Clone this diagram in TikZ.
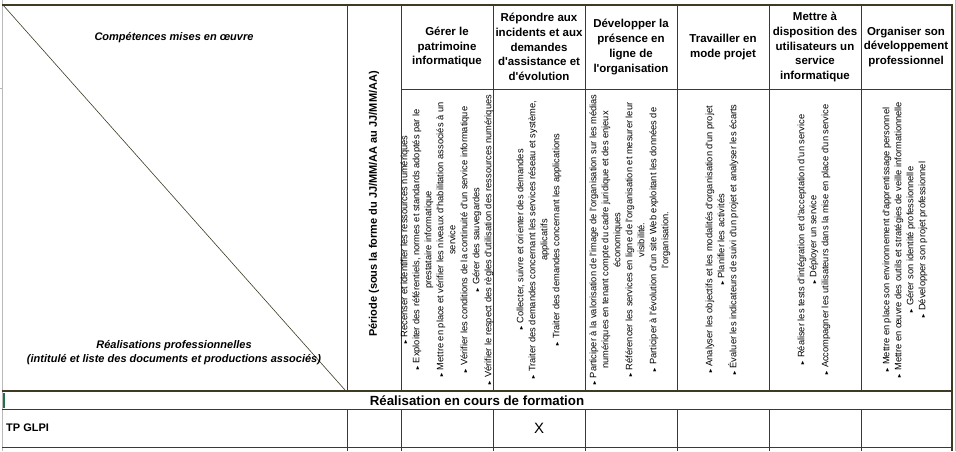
\documentclass[tikz,border=0pt]{standalone}
\usepackage{fontspec}
\setmainfont{Liberation Sans}[Ligatures=TeXOff]
\usepackage{amssymb}
\usepackage{xcolor}
\usepackage{tikz}
\usetikzlibrary{positioning}
\usetikzlibrary{calc}
\definecolor{grille}{RGB}{62,58,36}
\definecolor{selvert}{RGB}{33,115,70}
\tikzstyle{titre}=[font=\fontsize{11.5}{14.8}\selectfont\bfseries, align=center, inner sep=0pt]
\tikzstyle{coin}=[font=\fontsize{11}{14}\selectfont\bfseries\itshape, align=center, inner sep=0pt]
\tikzstyle{liste}=[font=\fontsize{9.3}{12}\selectfont, align=center, rotate=90, inner sep=0pt]
\tikzstyle{periode}=[font=\fontsize{11}{13}\selectfont\bfseries, rotate=90, inner sep=0pt]
\tikzstyle{trait} = [draw=grille, line width=1pt]
\tikzstyle{traitfort} = [draw=grille, line width=2pt]
\newcommand{\puce}{{\fontsize{4.5}{5}\selectfont\raisebox{0.3ex}{$\blacktriangleright$}}\ }

\begin{document}
\begin{tikzpicture}[x=1pt, y=-1pt]

  \useasboundingbox (0,0) rectangle (956,451);
  \def\haut{5};
  \def\sous{89};
  \def\bas{391};
  \def\rang{409};

  % bords gris de la feuille
  \draw[gray!55, line width=1pt] (2.5,0) -- (2.5,451);
  \draw[gray!55, line width=1pt] (955.5,0) -- (955.5,451);
  \draw[gray!55, line width=1pt] (0,88) -- (2.5,88);

  % grille
  \foreach \x in {347,401,493,585,677,769,861}
         \path[trait] (\x,\haut) -- (\x,\bas) (\x,\rang) -- (\x,451);
  \path[trait] (401,\sous) -- (952,\sous);
  \path[trait] (2,\rang) -- (952,\rang);
  \path[trait] (2,447) -- (952,447);
  \path[traitfort] (2,\haut) -- (953,\haut);
  \path[traitfort] (2,\bas) -- (952,\bas);
  \path[traitfort] (952,\haut) -- (952,451);
  \draw[grille, line width=0.6pt] (3,\haut) -- (345,390);
  \draw[selvert, line width=2pt] (3.5,393) -- (3.5,408);

  % coin
  \node[coin] (competences) at (174,38) {Compétences mises en œuvre};
  \node[coin] (realisations) at (174,353) {Réalisations professionnelles\\(intitulé et liste des documents et productions associés)};
  \node[periode] (periode) at (374,204) {Période (sous la forme du JJ/MM/AA au JJ/MM/AA)};

  % competences
  \foreach \x/\name/\label in {447/gerer/{Gérer le\\patrimoine\\informatique},
         539/repondre/{Répondre aux\\incidents et aux\\demandes\\d'assistance et\\d'évolution},
         631/developper/{Développer la\\présence en\\ligne de\\l'organisation},
         723/travailler/{Travailler en\\mode projet},
         815/disposition/{Mettre à\\disposition des\\utilisateurs un\\service\\informatique},
         906/organiser/{Organiser son\\développement\\professionnel}}
          \node[titre] (\name) at (\x,47) {\label};

  \foreach \x/\name/\label in {447/Lgerer/{\puce Recenser et identifier les ressources numériques\\
            \puce Exploiter des référentiels, normes et standards adoptés par le\\prestataire informatique\\
            \puce Mettre en place et vérifier les niveaux d'habilitation associés à un\\service\\
            \puce Vérifier les conditions de la continuité d'un service informatique\\
            \puce Gérer des sauvegardes\\
            \puce Vérifier le respect des règles d'utilisation des ressources numériques},
         539/Lrepondre/{\puce Collecter, suivre et orienter des demandes\\
            \puce Traiter des demandes concernant les services réseau et système,\\applicatifs\\
            \puce Traiter des demandes concernant les applications},
         630/Ldevelopper/{\puce Participer à la valorisation de l'image de l'organisation sur les médias\\numériques en tenant compte du cadre juridique et des enjeux\\économiques\\
            \puce Référencer les services en ligne de l'organisation et mesurer leur\\visibilité.\\
            \puce Participer à l'évolution d'un site Web exploitant les données de\\l'organisation.},
         722/Ltravailler/{\puce Analyser les objectifs et les modalités d'organisation d'un projet\\
            \puce Planifier les activités\\
            \puce Évaluer les indicateurs de suivi d'un projet et analyser les écarts},
         814/Ldisposition/{\puce Réaliser les tests d'intégration et d'acceptation d'un service\\
            \puce Déployer un service\\
            \puce Accompagner les utilisateurs dans la mise en place d'un service},
         905/Lorganiser/{\puce Mettre en place son environnement d'apprentissage personnel\\
            \puce Mettre en œuvre des outils et stratégies de veille informationnelle\\
            \puce Gérer son identité professionnelle\\
            \puce Développer son projet professionnel}}
          \node[liste] (\name) at (\x,240) {\label};

  % lignes du tableau
  \node[font=\fontsize{13.3}{15}\selectfont\bfseries, inner sep=0pt] (encours) at (477,400.5) {Réalisation en cours de formation};
  \node[font=\fontsize{11}{13}\selectfont\bfseries, anchor=west, inner sep=0pt] (tpglpi) at (6,428) {TP GLPI};
  \node[font=\fontsize{15}{17}\selectfont, inner sep=0pt] (croix) at (539,428) {X};

\end{tikzpicture}
\end{document}
